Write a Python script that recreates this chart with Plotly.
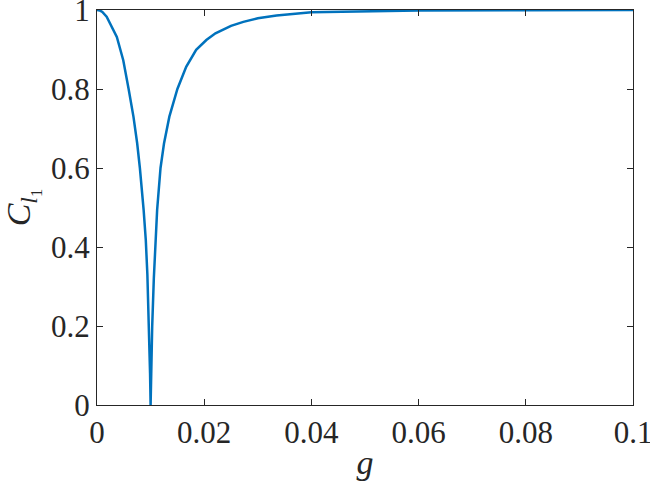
import plotly.graph_objects as go

# values
g = [0.0, 0.0005, 0.0010, 0.0018, 0.0037, 0.0049, 0.0059, 0.0068, 0.0075,
     0.0080, 0.0087, 0.0091, 0.0094, 0.0097, 0.0099, 0.0100,
     0.0101, 0.0103, 0.0106, 0.0109, 0.01122, 0.01185, 0.0125, 0.0135,
     0.0150, 0.01664, 0.0185, 0.0204, 0.0221, 0.0250, 0.0273, 0.0300,
     0.0335, 0.0400, 0.0500, 0.0600, 0.0800, 0.1000]
C = [1.0, 0.999, 0.995, 0.983, 0.932, 0.873, 0.800, 0.730, 0.662,
     0.600, 0.494, 0.418, 0.33, 0.20, 0.08, 0.0,
     0.08, 0.20, 0.32, 0.418, 0.494, 0.600, 0.662, 0.730,
     0.800, 0.856, 0.899, 0.924, 0.941, 0.960, 0.970, 0.979,
     0.986, 0.994, 0.997, 0.999, 0.9995, 1.0]

x_ticks = [0, 0.02, 0.04, 0.06, 0.08, 0.1]
x_ticktext = ["0", "0.02", "0.04", "0.06", "0.08", "0.1"]
y_ticks = [0, 0.2, 0.4, 0.6, 0.8, 1]
y_ticktext = ["0", "0.2", "0.4", "0.6", "0.8", "1"]

serif = "Liberation Serif, Times New Roman, serif"

fig = go.Figure()
fig.add_trace(go.Scatter(
    x=g, y=C, mode="lines",
    line=dict(color="#0072BD", width=2.5),
    showlegend=False,
))

axis_style = dict(
    showline=True, linecolor="#262626", linewidth=1, mirror="ticks",
    ticks="inside", ticklen=6, tickcolor="#262626", tickwidth=1,
    showgrid=False, zeroline=False,
    ticklabeloverflow="allow", automargin=False,
    tickfont=dict(family=serif, size=31, color="#262626"),
)

fig.update_xaxes(
    range=[0, 0.1], tickvals=x_ticks, ticktext=x_ticktext,
    title=dict(text="<i>g</i>", standoff=0,
               font=dict(family=serif, size=34, color="#262626")),
    **axis_style,
)
fig.update_yaxes(
    range=[0, 1], tickvals=y_ticks, ticktext=y_ticktext,
    title=dict(text="<i>C</i><sub><i>l</i><sub>1</sub></sub>", standoff=10,
               font=dict(family=serif, size=34, color="#262626")),
    **axis_style,
)

fig.update_layout(
    width=650, height=494,
    paper_bgcolor="white", plot_bgcolor="white",
    margin=dict(l=97, r=17, t=10, b=89),
)

# page body has a default 8px margin; drop it so the figure sits at the corner
fig.write_html("out.html", config={"displayModeBar": False},
               post_script="document.body.style.margin='0';")
